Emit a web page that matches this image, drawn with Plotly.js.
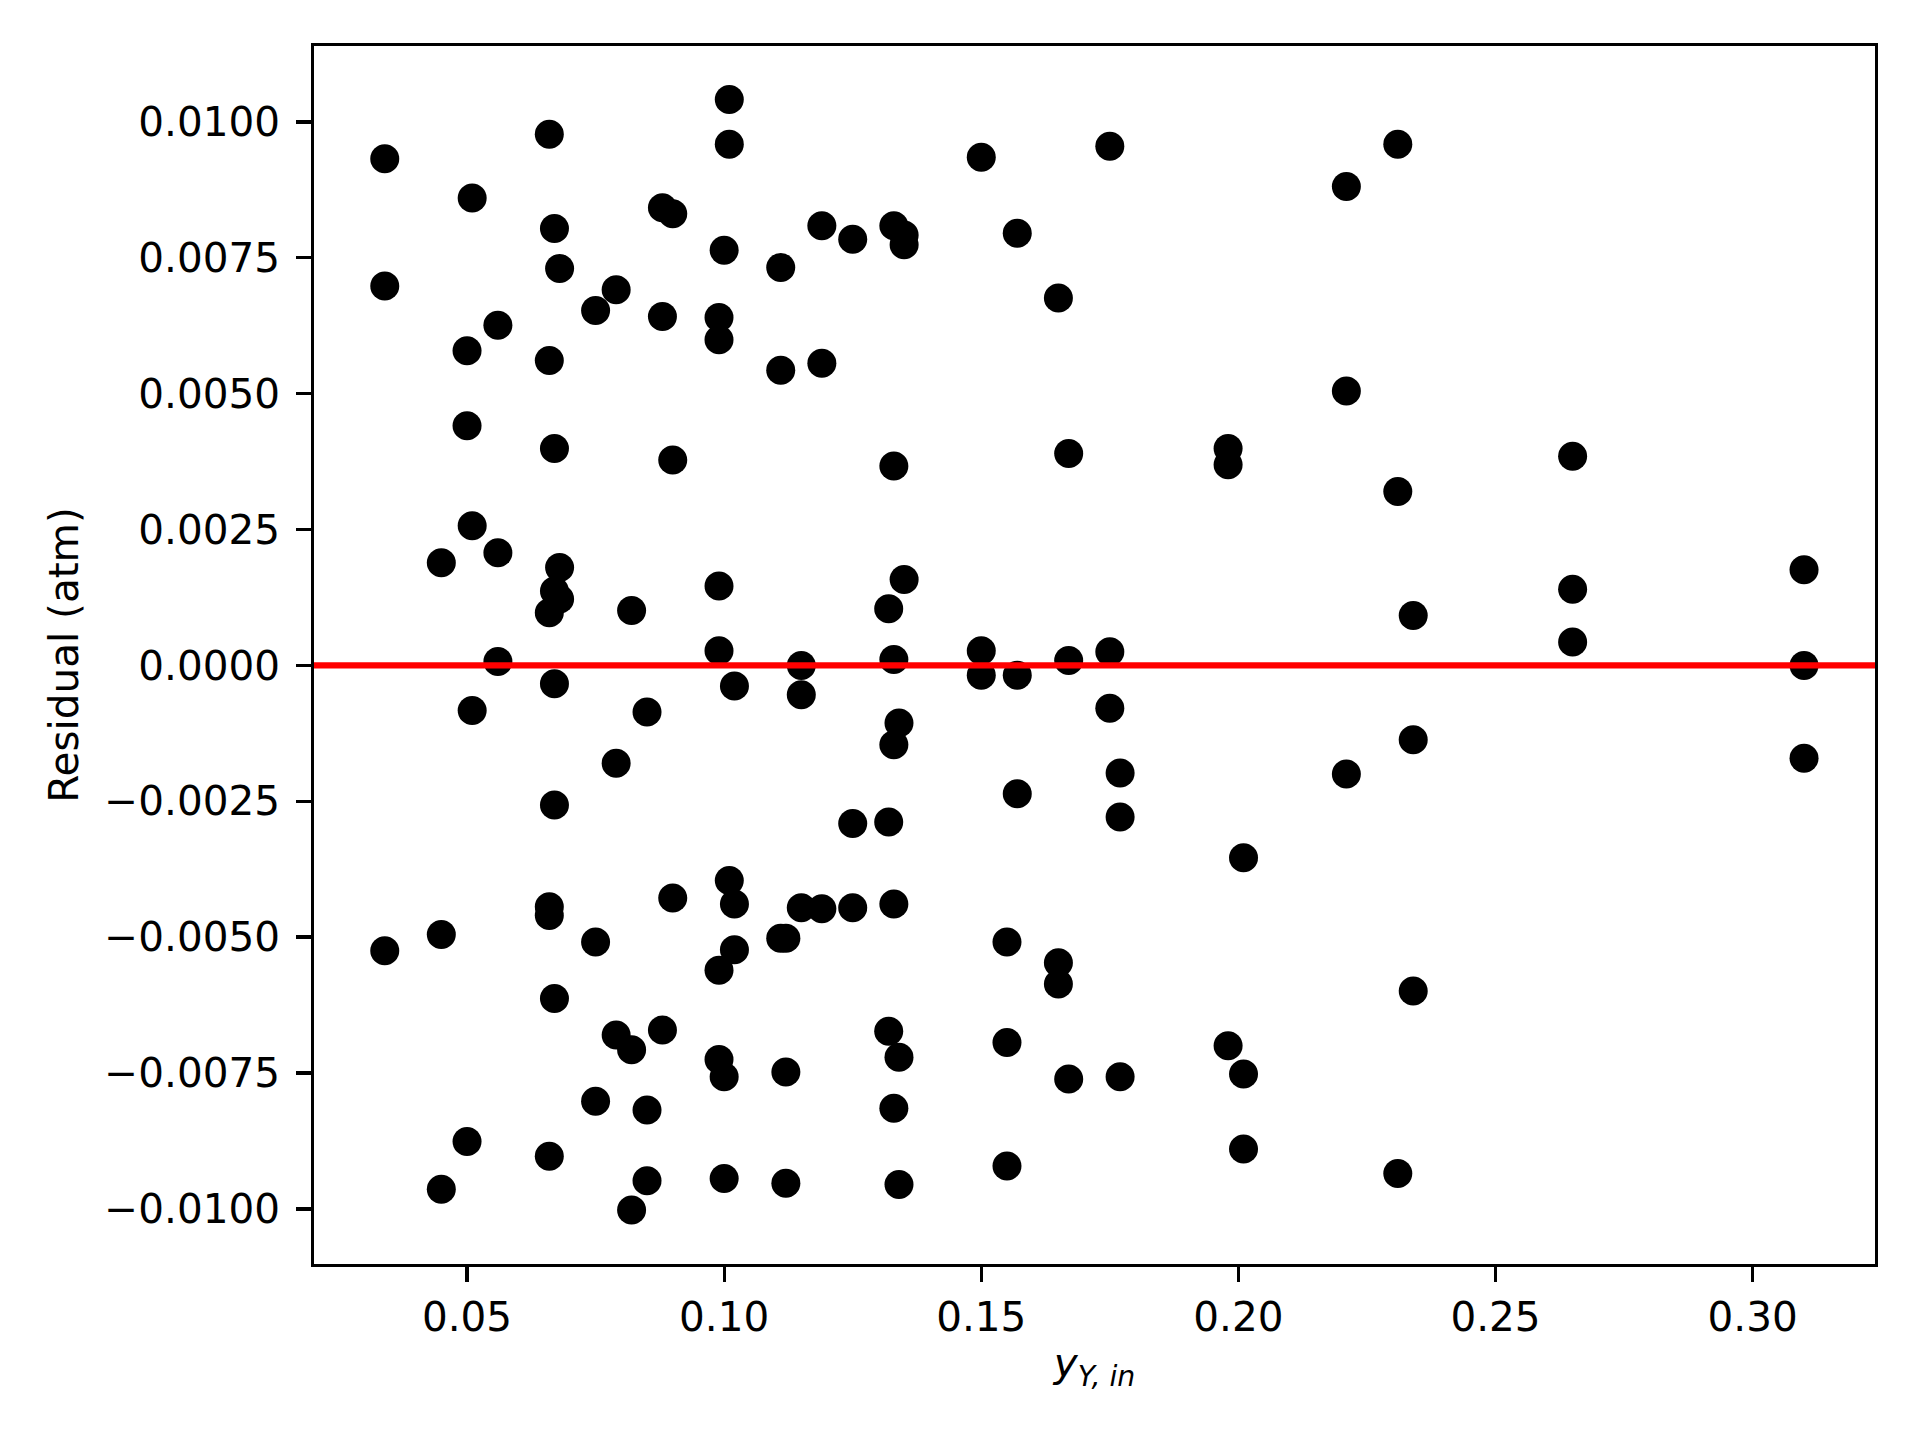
<!DOCTYPE html>
<html>
<head>
<meta charset="utf-8">
<script src="https://cdn.plot.ly/plotly-3.0.1.min.js"></script>
<style>html,body{margin:0;padding:0;background:#fff;}#chart{width:1920px;height:1440px;}</style>
</head>
<body>
<div id="chart"></div>
<script>
// y_{Y,in} values
const yIn = [
  0.034, 0.034, 0.034,
  0.045, 0.045, 0.045,
  0.050, 0.050, 0.050,
  0.051, 0.051, 0.051,
  0.056, 0.056, 0.056,
  0.066, 0.066, 0.066, 0.066, 0.066, 0.066,
  0.067, 0.067, 0.067, 0.067, 0.067, 0.067,
  0.068, 0.068, 0.068,
  0.075, 0.075, 0.075,
  0.079, 0.079, 0.079,
  0.082, 0.082, 0.082,
  0.085, 0.085, 0.085,
  0.088, 0.088, 0.088,
  0.090, 0.090, 0.090,
  0.099, 0.099, 0.099, 0.099, 0.099, 0.099,
  0.100, 0.100, 0.100,
  0.101, 0.101, 0.101,
  0.102, 0.102, 0.102,
  0.111, 0.111, 0.111,
  0.112, 0.112, 0.112,
  0.115, 0.115, 0.115,
  0.119, 0.119, 0.119,
  0.125, 0.125, 0.125,
  0.132, 0.132, 0.132,
  0.133, 0.133, 0.133, 0.133, 0.133, 0.133,
  0.135, 0.135, 0.135,
  0.134, 0.134, 0.134,
  0.150, 0.150, 0.150,
  0.155, 0.155, 0.155,
  0.157, 0.157, 0.157,
  0.165, 0.165, 0.165,
  0.167, 0.167, 0.167,
  0.175, 0.175, 0.175,
  0.177, 0.177, 0.177,
  0.198, 0.198, 0.198,
  0.201, 0.201, 0.201,
  0.221, 0.221, 0.221,
  0.231, 0.231, 0.231,
  0.234, 0.234, 0.234,
  0.265, 0.265, 0.265,
  0.310, 0.310, 0.310
];
// residuals (atm)
const residual = [
  0.00932, 0.00698, -0.00525,
  0.00189, -0.00495, -0.00964,
  0.00579, 0.00441, -0.00876,
  0.00860, 0.00257, -0.00083,
  0.00626, 0.00207, 0.00007,
  0.00977, 0.00561, 0.00097, -0.00444, -0.00460, -0.00903,
  0.00804, 0.00399, 0.00137, -0.00034, -0.00257, -0.00613,
  0.00730, 0.00180, 0.00122,
  0.00653, -0.00509, -0.00802,
  0.00691, -0.00180, -0.00680,
  0.00101, -0.00707, -0.01002,
  -0.00086, -0.00818, -0.00948,
  0.00842, 0.00642, -0.00671,
  0.00831, 0.00378, -0.00428,
  0.00640, 0.00599, 0.00146, 0.00027, -0.00561, -0.00725,
  0.00764, -0.00757, -0.00944,
  0.01041, 0.00959, -0.00396,
  -0.00038, -0.00439, -0.00523,
  0.00732, 0.00543, -0.00502,
  -0.00502, -0.00748, -0.00953,
  0.00000, -0.00054, -0.00446,
  0.00809, 0.00556, -0.00448,
  0.00784, -0.00291, -0.00446,
  0.00104, -0.00288, -0.00673,
  0.00809, 0.00367, 0.00011, -0.00146, -0.00439, -0.00815,
  0.00792, 0.00774, 0.00158,
  -0.00106, -0.00721, -0.00955,
  0.00935, 0.00027, -0.00018,
  -0.00509, -0.00694, -0.00921,
  0.00795, -0.00018, -0.00236,
  0.00676, -0.00547, -0.00586,
  0.00390, 0.00009, -0.00761,
  0.00955, 0.00025, -0.00079,
  -0.00198, -0.00279, -0.00757,
  0.00399, 0.00369, -0.00700,
  -0.00354, -0.00752, -0.00890,
  0.00881, 0.00505, -0.00200,
  0.00959, 0.00320, -0.00935,
  0.00092, -0.00137, -0.00599,
  0.00385, 0.00140, 0.00043,
  0.00176, 0.00000, -0.00171
];
const xTickVals = [0.05, 0.10, 0.15, 0.20, 0.25, 0.30];
const xTickText = ["0.05", "0.10", "0.15", "0.20", "0.25", "0.30"];
const yTickVals = [-0.0100, -0.0075, -0.0050, -0.0025, 0.0000, 0.0025, 0.0050, 0.0075, 0.0100];
const yTickText = ["\u22120.0100", "\u22120.0075", "\u22120.0050", "\u22120.0025", "0.0000", "0.0025", "0.0050", "0.0075", "0.0100"];
const zeroLevel = 0;

const font = {family: "DejaVu Sans", size: 40.5, color: "#000"};

const traces = [{
  type: "scatter",
  mode: "markers",
  x: yIn,
  y: residual,
  marker: {color: "#000", size: 29, line: {width: 0}},
  showlegend: false,
  hoverinfo: "skip"
}];

const layout = {
  width: 1920, height: 1440,
  paper_bgcolor: "#fff", plot_bgcolor: "#fff",
  margin: {l: 314, r: 45, t: 46, b: 176, pad: 0},
  font: font,
  showlegend: false,
  xaxis: {
    range: [0.02024, 0.3238],
    tickvals: xTickVals, ticktext: xTickText,
    ticks: "outside", ticklen: 14.6, tickwidth: 3.3, tickcolor: "#000",
    showline: true, linewidth: 3.3, linecolor: "#000", mirror: true,
    showgrid: false, zeroline: false,
    tickfont: font,
    ticklabelstandoff: 0,
    title: {text: "<i>y</i><sub><i>Y, in</i></sub>", font: font, standoff: 10}
  },
  yaxis: {
    range: [-0.011014, 0.011396],
    tickvals: yTickVals, ticktext: yTickText,
    ticks: "outside", ticklen: 14.6, tickwidth: 3.3, tickcolor: "#000",
    showline: true, linewidth: 3.3, linecolor: "#000", mirror: true,
    showgrid: false, zeroline: false,
    tickfont: font,
    ticklabelstandoff: 8,
    title: {text: "Residual (atm)", font: font, standoff: 14}
  },
  shapes: [{
    type: "line", xref: "paper", yref: "y",
    x0: 0, x1: 1, y0: zeroLevel, y1: zeroLevel,
    line: {color: "#ff0000", width: 6.25},
    layer: "above"
  }]
};

Plotly.newPlot("chart", traces, layout, {staticPlot: true, displayModeBar: false});
</script>
</body>
</html>
